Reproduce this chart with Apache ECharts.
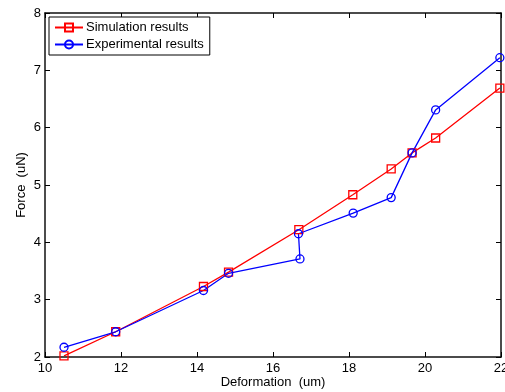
<!DOCTYPE html>
<html>
<head>
<meta charset="utf-8">
<script src="https://cdn.jsdelivr.net/npm/echarts@6/dist/echarts.min.js"></script>
<style>html,body{margin:0;padding:0;background:#fff}#c{width:505px;height:392px}</style>
</head>
<body>
<div id="c"></div>
<script>
var simX = [10.5, 11.86, 14.17, 14.83, 16.68, 18.1, 19.11, 19.66, 20.28, 21.97];
var simY = [2.02, 2.44, 3.23, 3.48, 4.22, 4.83, 5.28, 5.56, 5.82, 6.69];
var expX = [10.5, 11.86, 14.17, 14.83, 16.71, 16.67, 18.11, 19.11, 19.66, 20.28, 21.97];
var expY = [2.17, 2.44, 3.16, 3.46, 3.71, 4.15, 4.51, 4.78, 5.56, 6.31, 7.22];
var xTicks = [10, 12, 14, 16, 18, 20, 22];
var yTicks = [2, 3, 4, 5, 6, 7, 8];
var seriesNames = ['Simulation results', 'Experimental results'];
var xName = 'Deformation  (um)';
var yName = 'Force  (uN)';

function pairs(xs, ys) { return xs.map(function (x, i) { return [x, ys[i]]; }); }

var font = 'Liberation Sans, Arial, sans-serif';
var tickStyle = { show: true, inside: true, length: 5, lineStyle: { color: '#000', width: 1 } };
var lineStyle = { lineStyle: { color: '#111', width: 1.5 } };

var chart = echarts.init(document.getElementById('c'), null, { renderer: 'canvas' });
chart.setOption({
  animation: false,
  backgroundColor: '#fff',
  grid: { left: 45, right: 4, top: 13, bottom: 35, show: false, containLabel: false, outerBoundsMode: 'none' },
  legend: {
    orient: 'vertical', left: 49, top: 17,
    data: seriesNames,
    backgroundColor: '#fff', borderColor: '#000', borderWidth: 1, borderRadius: 0,
    padding: [4, 6, 4, 5], itemGap: 4, itemWidth: 28, itemHeight: 10,
    textStyle: { fontFamily: font, fontSize: 13, color: '#000', padding: [0, 0, 0, -2] }
  },
  xAxis: [{
    type: 'value', min: xTicks[0], max: xTicks[xTicks.length - 1], interval: 2,
    name: xName, nameLocation: 'middle', nameGap: 19, nameMoveOverlap: false,
    nameTextStyle: { fontFamily: font, fontSize: 13, color: '#000' },
    axisLine: lineStyle, axisTick: tickStyle, splitLine: { show: false },
    axisLabel: { fontFamily: font, fontSize: 13, color: '#000', margin: 5 }
  }, {
    type: 'value', position: 'top', min: xTicks[0], max: xTicks[xTicks.length - 1], interval: 2,
    axisLine: lineStyle, axisTick: tickStyle, splitLine: { show: false }, axisLabel: { show: false }
  }],
  yAxis: [{
    type: 'value', min: yTicks[0], max: yTicks[yTicks.length - 1], interval: 1,
    name: yName, nameLocation: 'middle', nameGap: 17, nameMoveOverlap: false,
    nameTextStyle: { fontFamily: font, fontSize: 13, color: '#000' },
    axisLine: lineStyle, axisTick: tickStyle, splitLine: { show: false },
    axisLabel: { fontFamily: font, fontSize: 13, color: '#000', margin: 4 }
  }, {
    type: 'value', position: 'right', min: yTicks[0], max: yTicks[yTicks.length - 1], interval: 1,
    axisLine: lineStyle, axisTick: tickStyle, splitLine: { show: false }, axisLabel: { show: false }
  }],
  series: [{
    name: seriesNames[0], type: 'line', xAxisIndex: 0, yAxisIndex: 0,
    data: pairs(simX, simY),
    symbol: 'rect', symbolSize: 8,
    lineStyle: { color: '#ff0000', width: 1.3 },
    itemStyle: { color: 'rgba(0,0,0,0)', borderColor: '#ff0000', borderWidth: 1.3 }
  }, {
    name: seriesNames[1], type: 'line', xAxisIndex: 0, yAxisIndex: 0,
    data: pairs(expX, expY),
    symbol: 'circle', symbolSize: 8,
    lineStyle: { color: '#0000ff', width: 1.3 },
    itemStyle: { color: 'rgba(0,0,0,0)', borderColor: '#0000ff', borderWidth: 1.3 }
  }]
});
</script>
</body>
</html>
